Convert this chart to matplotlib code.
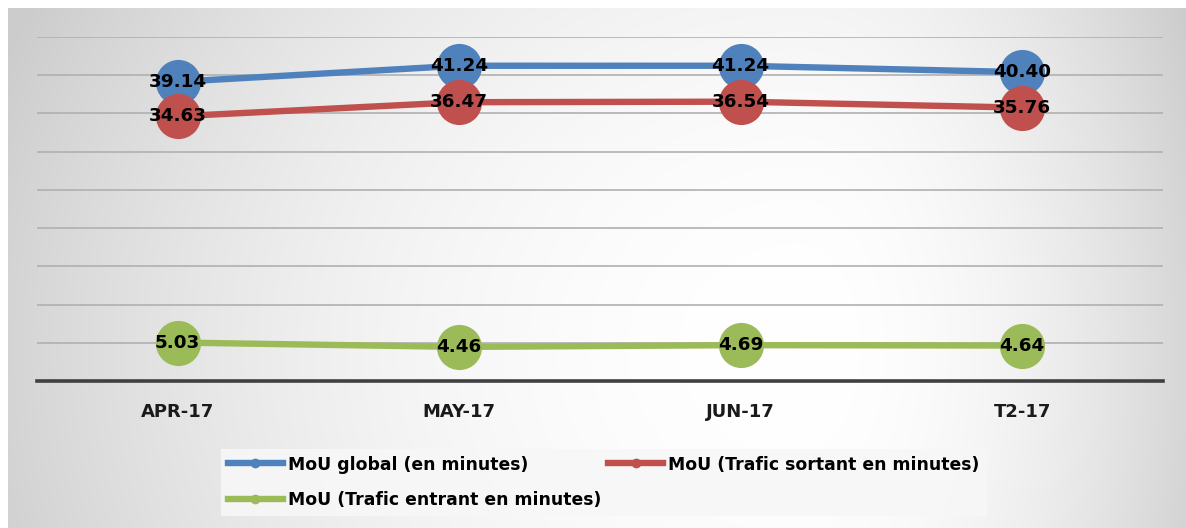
import numpy as np
import matplotlib
matplotlib.use("Agg")
import matplotlib.pyplot as plt

# data
months = ["APR-17", "MAY-17", "JUN-17", "T2-17"]
mou_global = [39.14, 41.24, 41.24, 40.40]
mou_sortant = [34.63, 36.47, 36.54, 35.76]
mou_entrant = [5.03, 4.46, 4.69, 4.64]

labels = ["MoU global (en minutes)",
          "MoU (Trafic sortant en minutes)",
          "MoU (Trafic entrant en minutes)"]
colors = ["#4f81bd", "#c0504d", "#9bbb59"]

plt.rcParams["font.family"] = ["DejaVu Sans"]
plt.rcParams["font.weight"] = "bold"

W, H = 1186, 528
fig = plt.figure(figsize=(W / 100, H / 100), dpi=100)
fig.patch.set_facecolor("white")

# gradient background (light centre, grey edges)
bg = fig.add_axes([8 / W, 0, (W - 8) / W, (H - 8) / H], zorder=0)
gx = np.linspace(8, W, 400)
gy = np.linspace(8, H, 200)
X, Y = np.meshgrid(gx, gy)
cx, cy = 800, 350
nx = np.where(X < cx, (cx - X) / 800, (X - cx) / 400)
ny = (Y - cy) / 700
r = np.clip(np.sqrt(nx ** 2 + ny ** 2), 0, 1.08)
shade = 1.0 - 0.17 * r ** 2
bg.imshow(np.dstack([shade] * 3), aspect="auto", extent=[0, 1, 0, 1])
bg.axis("off")

ax = fig.add_axes([37 / W, (H - 381) / H, (1163 - 37) / W, (381 - 37) / H], zorder=1)
ax.patch.set_alpha(0)
x = np.arange(len(months))

series = [mou_global, mou_sortant, mou_entrant]
for vals, lab, col in zip(series, labels, colors):
    ax.plot(x, vals, color=col, lw=4.6, marker="o", markersize=32.5,
            markeredgewidth=0, label=lab, zorder=3)
    for xi, v in zip(x, vals):
        ax.text(xi, v, f"{v:.2f}", ha="center", va="center", fontsize=13.2,
                fontweight="bold", color="black", zorder=5)

ax.set_xlim(-0.5, 3.5)
ax.set_ylim(0, 45)
ax.set_yticks(np.arange(5, 46, 5))
ax.yaxis.grid(True, color="#b0b0b0", lw=1.2, zorder=1)
ax.axhline(0, color="#404040", lw=2.6, zorder=2, clip_on=False)
for s in ax.spines.values():
    s.set_visible(False)
ax.set_xticks(x)
ax.set_xticklabels(months, fontsize=13, fontweight="bold", color="#1a1a1a")
ax.tick_params(axis="x", length=0, pad=16)
ax.tick_params(axis="y", length=0, labelleft=False)

# legend box
leg_handles = []
for col in colors:
    h, = ax.plot([], [], color=col, lw=4.6, marker="o", markersize=6)
    leg_handles.append(h)
order = [0, 2, 1]
leg = fig.legend([leg_handles[i] for i in order], [labels[i] for i in order],
                 ncol=2, loc="upper left",
                 bbox_to_anchor=(212 / W, (H - 440) / H),
                 fontsize=12.4, frameon=True, fancybox=False,
                 handlelength=3.2, handletextpad=0.3, columnspacing=0.4,
                 labelspacing=1.0, borderpad=0.4)
leg.get_frame().set_facecolor("#f7f7f7")
leg.get_frame().set_edgecolor("none")
leg.get_frame().set_alpha(0.9)

fig.savefig("out.png", dpi=100)
